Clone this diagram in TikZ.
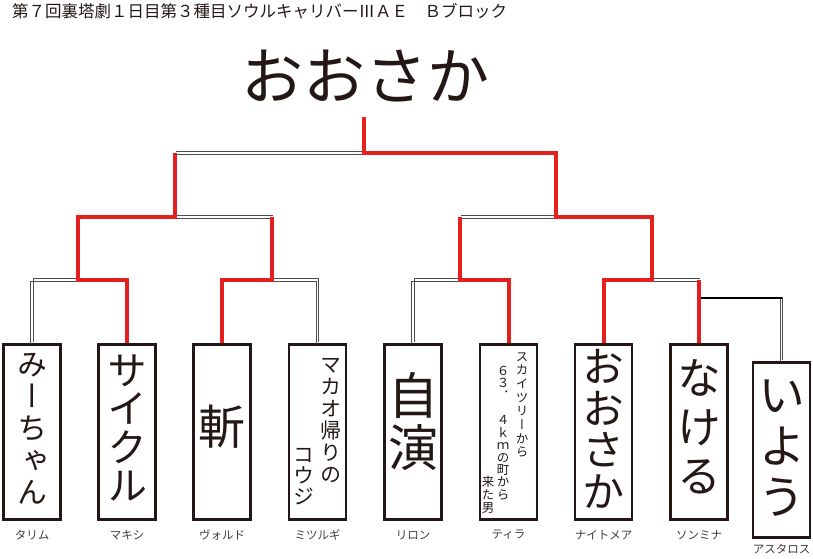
\documentclass[tikz,border=0pt]{standalone}
\usepackage{fontspec}
\setmainfont{Noto Sans CJK JP}
\newfontfamily\vjp[RawFeature=+vert]{Noto Sans CJK JP}
\definecolor{winred}{HTML}{E3201E}
\definecolor{ink}{HTML}{231815}
\newcommand\twinline[1]{%
  \begin{scope}[transform canvas={shift={(-1.3pt,-1.3pt)}}]\draw[dl] #1;\end{scope}%
  \begin{scope}[transform canvas={shift={(1.3pt,1.3pt)}}]\draw[dl] #1;\end{scope}}
\begin{document}
\begin{tikzpicture}[x=1pt,y=-1pt,
  box/.style={draw=ink, line width=2.8pt, minimum width=57pt, minimum height=175pt, inner sep=0pt},
  vt/.style 2 args={font=\vjp\fontsize{#1}{#2}\selectfont, align=center, inner sep=0pt, text=ink},
  lab/.style={font=\fontsize{11.5}{11.5}\selectfont, inner sep=0pt, text=ink!85},
  dl/.style={draw=black!70, line width=0.9pt, line join=miter},
  single/.style={draw=black, line width=1.2pt},
  won/.style={draw=winred, line width=4pt, line join=miter}]
\useasboundingbox (0,0) rectangle (813,558);

% title and champion
\node[anchor=west, font=\fontsize{16.5}{16.5}\selectfont, inner sep=0pt, text=ink] (title) at (12,11) {第７回裏塔劇１日目第３種目ソウルキャリバーⅢＡＥ　Ｂブロック};
\node[font=\fontsize{62}{62}\selectfont, inner sep=0pt, text=ink] (champ) at (365,76) {おおさか};

% boxes
\node[box] (b1) at (32,432) {};
\node[box] (b2) at (127,432) {};
\node[box] (b3) at (222,432) {};
\node[box] (b4) at (317.5,432) {};
\node[box] (b5) at (413,432) {};
\node[box] (b6) at (508.5,432) {};
\node[box] (b7) at (603.5,432) {};
\node[box] (b8) at (699,432) {};
\node[box] (b9) at (781.5,450) {};

% box texts
\node[vt={30}{32}] (n1) at (32,429) {み\\ー\\ち\\ゃ\\ん};
\node[vt={40}{38.5}] (n2) at (127,428) {サ\\イ\\ク\\ル};
\node[vt={47}{47}] (n3) at (222,427) {斬};
\node[vt={21}{22}] (n4a) at (331,421) {マ\\カ\\オ\\帰\\り\\の};
\node[vt={21}{21}] (n4b) at (304,477) {コ\\ウ\\ジ};
\node[vt={50}{52}] (n5) at (413,422) {自\\演};
\node[vt={12.5}{13.7}] (n6a) at (522,405) {ス\\カ\\イ\\ツ\\リ\\ー\\か\\ら};
\node[vt={12.5}{12.4}] (n6b) at (503,433) {６\\３\\．\\　\\４\\ｋ\\ｍ\\の\\町\\か\\ら};
\node[vt={12.5}{13}] (n6c) at (488,495) {来\\た\\男};
\node[vt={42}{41.5}] (n7) at (603.5,429) {お\\お\\さ\\か};
\node[vt={44}{49}] (n8) at (699,427) {な\\け\\る};
\node[vt={47}{51}] (n9) at (781.5,448) {い\\よ\\う};

% player labels
\node[lab] (l1) at (32,535) {タリム};
\node[lab] (l2) at (127,535) {マキシ};
\node[lab] (l3) at (222,535) {ヴォルド};
\node[lab] (l4) at (317.5,535) {ミツルギ};
\node[lab] (l5) at (413,535) {リロン};
\node[lab] (l6) at (508.5,535) {ティラ};
\node[lab] (l7) at (603.5,535) {ナイトメア};
\node[lab] (l8) at (699,535) {ソンミナ};
\node[lab] (l9) at (781.5,549) {アスタロス};

% junction coordinates
\coordinate (p1) at (78,280);
\coordinate (p2) at (272,280);
\coordinate (p3) at (460,280);
\coordinate (p4) at (652,280);
\coordinate (e8) at (699,280);
\coordinate (q8) at (699,298);
\coordinate (c9) at (781.5,298);
\coordinate (s1) at (78,217);
\coordinate (s2) at (272,217);
\coordinate (s3) at (460,217);
\coordinate (s4) at (652,217);
\coordinate (m1) at (175,217);
\coordinate (m2) at (556,217);
\coordinate (t1) at (175,153);
\coordinate (t2) at (556,153);
\coordinate (top) at (364,153);
\coordinate (topend) at (364,117);

% losing paths (twin lines)
\twinline{(b1.north) |- (p1)}
\twinline{(p2) -| (b4.north)}
\twinline{(b5.north) |- (p3)}
\twinline{(p4) -- (e8)}
\twinline{(m1) -- (s2)}
\twinline{(s3) -- (m2)}
\twinline{(t1) -- (top)}
\twinline{(c9) -- (b9.north)}
\draw[single] (q8) -- (c9);

% winning paths
\draw[won] (b2.north) |- (p1) -- (s1) -| (t1);
\draw[won] (b3.north) |- (p2) -- (s2);
\draw[won] (b6.north) |- (p3) -- (s3);
\draw[won] (b8.north) -- (e8);
\draw[won] (b7.north) |- (p4) -- (s4) -| (t2) -- (top) -- (topend);
\end{tikzpicture}
\end{document}
